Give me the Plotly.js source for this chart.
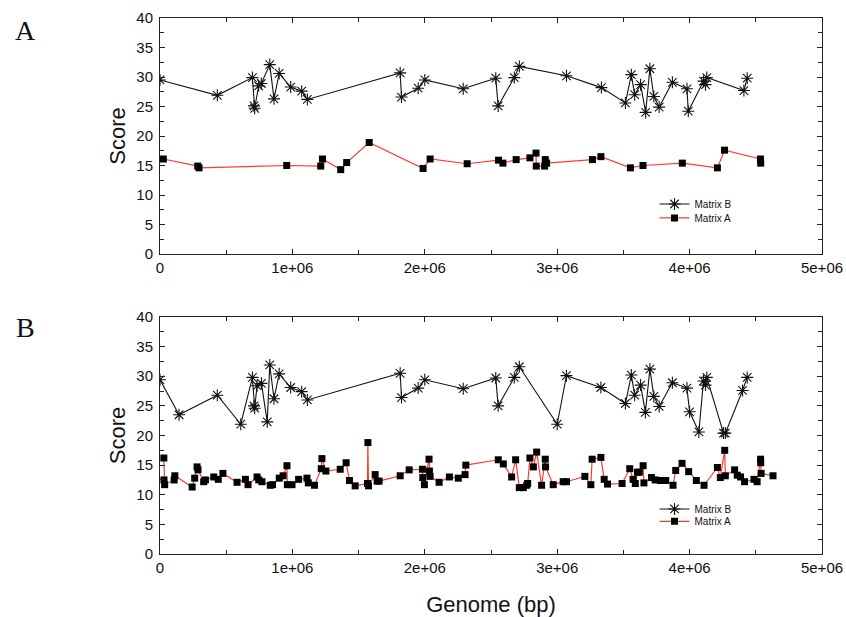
<!DOCTYPE html>
<html>
<head>
<meta charset="utf-8">
<script src="https://cdn.plot.ly/plotly-3.0.1.min.js"></script>
<style>html,body{margin:0;padding:0;background:#fff;}#chart{width:846px;height:617px;}</style>
</head>
<body>
<div id="chart"></div>
<script>
// ---- Data (genome position in bp, score) ----
const seriesNames = ["Matrix B", "Matrix A"];
const xTickVals = [0, 1000000, 2000000, 3000000, 4000000, 5000000];
const xTickText = ["0", "1e+06", "2e+06", "3e+06", "4e+06", "5e+06"];
const yTickVals = [0, 5, 10, 15, 20, 25, 30, 35, 40];

// Panel A
const panelA_matrixB_x = [0, 433000, 698000, 710000, 715000, 745000, 765000, 829000, 861000, 900000, 987000, 1070000, 1113000, 1814000, 1824000, 1950000, 2000000, 2290000, 2536000, 2554000, 2676000, 2714000, 3070000, 3334000, 3515000, 3560000, 3585000, 3630000, 3668000, 3700000, 3730000, 3770000, 3870000, 3980000, 3990000, 4105000, 4120000, 4130000, 4410000, 4435000];
const panelA_matrixB_y = [29.5, 26.9, 29.9, 25.1, 24.7, 28.5, 28.9, 32.1, 26.3, 30.6, 28.3, 27.6, 26.2, 30.7, 26.6, 28.1, 29.5, 28.0, 29.8, 25.1, 29.9, 31.8, 30.2, 28.2, 25.6, 30.4, 27.0, 28.7, 24.0, 31.4, 26.7, 24.9, 29.1, 28.0, 24.2, 29.3, 28.7, 29.9, 27.7, 29.8];
const panelA_matrixA_x = [25000, 285000, 295000, 957000, 1214000, 1227000, 1365000, 1410000, 1580000, 1987000, 2040000, 2320000, 2557000, 2590000, 2690000, 2794000, 2840000, 2842000, 2905000, 2910000, 2920000, 3266000, 3330000, 3553000, 3648000, 3945000, 4210000, 4264000, 4535000, 4537000];
const panelA_matrixA_y = [16.1, 14.9, 14.6, 15.0, 14.9, 16.1, 14.3, 15.5, 18.9, 14.5, 16.1, 15.3, 15.9, 15.4, 16.0, 16.3, 17.1, 14.9, 14.9, 16.0, 15.4, 16.0, 16.5, 14.6, 15.0, 15.4, 14.6, 17.6, 16.1, 15.4];

// Panel B
const panelB_matrixB_x = [0, 144000, 433000, 610000, 698000, 710000, 715000, 733000, 766000, 810000, 829000, 861000, 900000, 987000, 1070000, 1113000, 1814000, 1824000, 1950000, 2000000, 2290000, 2536000, 2554000, 2676000, 2714000, 3000000, 3070000, 3330000, 3515000, 3560000, 3585000, 3630000, 3666000, 3700000, 3730000, 3770000, 3870000, 3980000, 4000000, 4070000, 4105000, 4120000, 4130000, 4256000, 4270000, 4400000, 4435000];
const panelB_matrixB_y = [29.4, 23.5, 26.8, 21.9, 29.8, 25.0, 24.6, 28.4, 28.8, 22.3, 31.9, 26.2, 30.4, 28.1, 27.4, 26.0, 30.5, 26.4, 28.0, 29.4, 27.9, 29.7, 25.0, 29.8, 31.6, 21.9, 30.1, 28.1, 25.4, 30.2, 26.8, 28.5, 23.9, 31.2, 26.6, 24.9, 28.9, 28.0, 24.0, 20.6, 29.2, 28.5, 29.8, 20.4, 20.4, 27.6, 29.8];
const panelB_matrixA_x = [29000, 30000, 35000, 107000, 112000, 243000, 262000, 280000, 287000, 330000, 343000, 406000, 440000, 475000, 582000, 645000, 665000, 733000, 746000, 770000, 833000, 850000, 901000, 930000, 959000, 962000, 997000, 1047000, 1110000, 1120000, 1167000, 1218000, 1223000, 1253000, 1361000, 1406000, 1431000, 1474000, 1567000, 1570000, 1575000, 1625000, 1640000, 1655000, 1814000, 1882000, 1982000, 1985000, 1997000, 2032000, 2035000, 2040000, 2108000, 2186000, 2253000, 2304000, 2310000, 2555000, 2593000, 2656000, 2686000, 2714000, 2744000, 2770000, 2777000, 2794000, 2820000, 2845000, 2882000, 2910000, 2912000, 2970000, 3045000, 3070000, 3209000, 3254000, 3264000, 3330000, 3355000, 3380000, 3490000, 3548000, 3573000, 3590000, 3606000, 3620000, 3649000, 3655000, 3712000, 3740000, 3780000, 3820000, 3875000, 3895000, 3943000, 3993000, 4051000, 4109000, 4210000, 4232000, 4265000, 4270000, 4340000, 4360000, 4385000, 4415000, 4486000, 4510000, 4536000, 4537000, 4540000, 4630000];
const panelB_matrixA_y = [16.2, 12.5, 11.7, 12.5, 13.2, 11.3, 12.8, 14.7, 14.2, 12.2, 12.5, 13.0, 12.6, 13.6, 12.1, 12.6, 11.7, 13.0, 12.5, 12.2, 11.6, 11.7, 12.8, 13.2, 14.9, 11.7, 11.7, 12.6, 12.8, 12.0, 11.6, 14.4, 16.1, 14.0, 14.3, 15.4, 12.4, 11.5, 11.9, 18.8, 11.5, 13.4, 12.3, 12.3, 13.2, 14.2, 14.3, 12.9, 11.7, 16.0, 14.0, 13.1, 12.1, 13.0, 12.8, 13.4, 15.0, 15.9, 15.2, 13.0, 15.9, 11.2, 11.2, 11.6, 11.9, 16.2, 14.7, 17.2, 11.6, 16.0, 14.7, 11.7, 12.2, 12.2, 13.1, 11.7, 16.0, 16.3, 12.6, 11.8, 11.9, 14.4, 12.6, 11.9, 13.8, 13.8, 14.9, 12.0, 12.9, 12.5, 12.4, 12.4, 11.6, 14.1, 15.3, 13.9, 12.4, 11.6, 14.6, 12.9, 17.5, 13.2, 14.2, 13.3, 13.0, 12.2, 12.6, 12.2, 16.0, 15.4, 13.6, 13.2];

// ---- Styles ----
const starStyle = {symbol: "asterisk-open", size: 10, color: "#111", line: {color: "#111", width: 1.1}};
const squareStyle = {symbol: "square", size: 7, color: "#000", line: {width: 0}};

function mkB(x, y, xa, ya, leg) {
  return {x: x, y: y, xaxis: xa, yaxis: ya, legend: leg, name: seriesNames[0], type: "scatter", mode: "lines+markers",
    line: {color: "#111", width: 1.1}, marker: starStyle};
}
function mkA(x, y, xa, ya, leg) {
  return {x: x, y: y, xaxis: xa, yaxis: ya, legend: leg, name: seriesNames[1], type: "scatter", mode: "lines+markers",
    line: {color: "#ff3b30", width: 1.2}, marker: squareStyle};
}

const data = [
  mkB(panelA_matrixB_x, panelA_matrixB_y, "x", "y", "legend"),
  mkA(panelA_matrixA_x, panelA_matrixA_y, "x", "y", "legend2"),
  mkB(panelB_matrixB_x, panelB_matrixB_y, "x2", "y2", "legend3"),
  mkA(panelB_matrixA_x, panelB_matrixA_y, "x2", "y2", "legend4")
];

const fam = "Arial, 'Liberation Sans', sans-serif";
const tickFont = {family: fam, size: 15, color: "#111"};
function xAxis(anchor, title) {
  const ax = {anchor: anchor, range: [0, 5000000], tickvals: xTickVals, ticktext: xTickText,
    ticks: "inside", ticklen: 5, tickcolor: "#222", showline: true, linecolor: "#222", linewidth: 1, mirror: "ticks",
    showgrid: false, zeroline: false, tickfont: tickFont, fixedrange: true,
    minor: {dtick: 500000, tick0: 0, ticks: "inside", ticklen: 4, tickcolor: "#222", showgrid: false}};
  if (title) ax.title = {text: title, font: {family: fam, size: 22, color: "#111"}, standoff: 21};
  return ax;
}
function yAxis(anchor, domain) {
  return {anchor: anchor, domain: domain, range: [0, 40], tickvals: yTickVals,
    ticks: "inside", ticklen: 5, tickcolor: "#222", showline: true, linecolor: "#222", linewidth: 1, mirror: "ticks",
    showgrid: false, zeroline: false, tickfont: tickFont, fixedrange: true, ticklabelstandoff: 3,
    minor: {dtick: 2.5, tick0: 0, ticks: "inside", ticklen: 4, tickcolor: "#222", showgrid: false},
    title: {text: "Score", font: {family: fam, size: 22, color: "#111"}, standoff: 4}};
}

const legendFont = {family: fam, size: 10, color: "#111"};
function leg(y) {
  return {x: 0.747, y: y, xanchor: "left", yanchor: "middle", bgcolor: "rgba(0,0,0,0)", borderwidth: 0, font: legendFont, tracegroupgap: 0};
}
const layout = {
  width: 846, height: 617,
  margin: {l: 159.5, r: 23.5, t: 18, b: 63},
  paper_bgcolor: "#fff", plot_bgcolor: "#fff",
  showlegend: true,
  xaxis: xAxis("y", null),
  yaxis: yAxis("x", [0.5597, 1]),
  xaxis2: xAxis("y2", "Genome (bp)"),
  yaxis2: yAxis("x2", [0, 0.4422]),
  legend: leg(0.653),
  legend2: leg(0.627),
  legend3: leg(0.084),
  legend4: leg(0.061),
  annotations: [
    {text: "A", xref: "paper", yref: "paper", x: -0.203, y: 0.9776, xanchor: "center", yanchor: "middle", showarrow: false,
     font: {family: "'Liberation Serif', 'Times New Roman', serif", size: 28, color: "#111"}},
    {text: "B", xref: "paper", yref: "paper", x: -0.203, y: 0.4235, xanchor: "center", yanchor: "middle", showarrow: false,
     font: {family: "'Liberation Serif', 'Times New Roman', serif", size: 28, color: "#111"}}
  ]
};

Plotly.newPlot("chart", data, layout, {displayModeBar: false, staticPlot: true});
</script>
</body>
</html>
